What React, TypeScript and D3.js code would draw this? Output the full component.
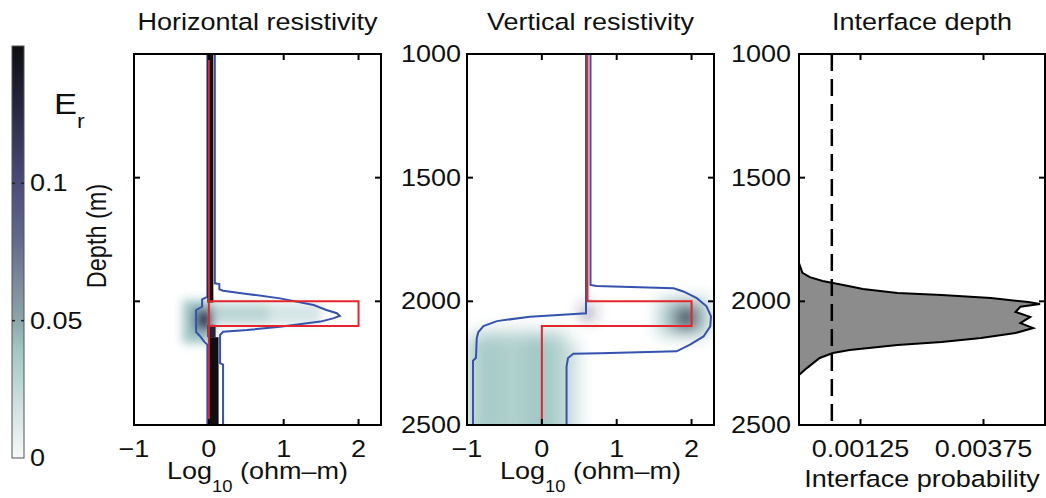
import React from "react";
import * as d3 from "d3";

// axis ticks
const depthTicks = [1000, 1500, 2000, 2500];
const resTicks = [-1, 0, 1, 2];
const probTicks = [0.00125, 0.00375];
const probTickLabels = ["0.00125", "0.00375"];
const erTicks = [0, 0.05, 0.1];
const erTickLabels = ["0", "0.05", "0.1"];

// E_r colour map
const erStops = [0, 0.015, 0.03, 0.04, 0.05, 0.065, 0.08, 0.1, 0.13, 0.15];
const erColors = ["#f6f9f9", "#d8e6e6", "#b6d3d1", "#9fc6c3", "#8ca6aa", "#7a889a", "#606a8a", "#4c4c7c", "#24243c", "#0e0e12"];

// true models [log10 rho, depth]
const trueHorizontal = [[0, 1000], [0, 2000], [2, 2000], [2, 2100], [0, 2100], [0, 2500]];
const trueHorizontalSide = [[0, 2000], [0, 2100]];
const trueVertical = [[0.61, 1000], [0.61, 2000], [2, 2000], [2, 2100], [0, 2100], [0, 2500]];

// credible bounds [log10 rho, depth]
const hLeftBound = [[-0.02, 1000], [-0.02, 1982], [-0.09, 1992], [-0.09, 2022], [-0.17, 2035], [-0.17, 2124], [-0.12, 2140], [-0.06, 2164], [-0.02, 2175], [-0.02, 2500]];
const hRightBound = [[0.08, 1000], [0.08, 1927], [0.14, 1930], [0.14, 1951], [0.19, 1957], [0.51, 1970], [0.95, 1988], [1.4, 2015], [1.57, 2035], [1.71, 2048], [1.75, 2059], [1.66, 2069], [1.49, 2082], [0.95, 2103], [0.51, 2116], [0.19, 2123], [0.15, 2136], [0.15, 2250], [0.19, 2256], [0.19, 2500]];
const vLeftBound = [[0.59, 1000], [0.59, 2048], [0.44, 2051], [-0.16, 2062], [-0.6, 2080], [-0.78, 2100], [-0.85, 2125], [-0.87, 2150], [-0.88, 2228], [-0.92, 2240], [-0.92, 2500]];
const vRightBound = [[0.65, 1000], [0.65, 1934], [0.73, 1938], [1.76, 1947], [1.89, 1960], [2.07, 1987], [2.2, 2020], [2.26, 2061], [2.25, 2101], [2.16, 2142], [1.98, 2175], [1.8, 2202], [0.78, 2210], [0.42, 2212], [0.35, 2229], [0.33, 2263], [0.33, 2500]];

// E_r patches
const hDensity = [
  { x0: 0.05, x1: 1.5, d0: 2008, d1: 2092, er: 0.016, soft: true },
  { x0: 0.05, x1: 0.8, d0: 2010, d1: 2090, er: 0.028, soft: true },
  { x0: -0.35, x1: 0.05, d0: 1995, d1: 2170, er: 0.04, soft: true },
  { x0: -0.2, x1: 0.05, d0: 2030, d1: 2120, er: 0.08, soft: true },
  { x0: -0.12, x1: 0.02, d0: 2045, d1: 2100, er: 0.13, soft: true },
  { x0: -0.02, x1: 0.06, d0: 1000, d1: 2005, er: 0.15, soft: false },
  { x0: -0.02, x1: 0.09, d0: 2095, d1: 2145, er: 0.13, soft: false },
  { x0: 0.0, x1: 0.13, d0: 2145, d1: 2500, er: 0.15, soft: false },
];
const vDensity = [
  { x0: -0.85, x1: 0.35, d0: 2115, d1: 2150, er: 0.02 },
  { x0: -1.0, x1: -0.75, d0: 2140, d1: 2500, er: 0.033 },
  { x0: -0.75, x1: -0.55, d0: 2140, d1: 2500, er: 0.038 },
  { x0: -0.55, x1: -0.3, d0: 2140, d1: 2500, er: 0.032 },
  { x0: -0.3, x1: -0.15, d0: 2140, d1: 2500, er: 0.036 },
  { x0: -0.15, x1: 0.1, d0: 2140, d1: 2500, er: 0.039 },
  { x0: 0.1, x1: 0.3, d0: 2145, d1: 2500, er: 0.033 },
  { x0: 0.3, x1: 0.5, d0: 2165, d1: 2500, er: 0.02 },
  { x0: 1.55, x1: 2.25, d0: 1990, d1: 2140, er: 0.03 },
  { x0: 1.75, x1: 2.1, d0: 2015, d1: 2115, er: 0.075 },
  { x0: 1.85, x1: 2.02, d0: 2030, d1: 2105, er: 0.14 },
  { x0: 0.55, x1: 0.67, d0: 2025, d1: 2068, er: 0.12 },
];

// interface depth histogram
const interfaceDepth = [1845, 1885, 1902, 1918, 1934, 1950, 1966, 1974, 1987, 2003, 2011, 2022, 2043, 2063, 2088, 2108, 2128, 2148, 2164, 2177, 2197, 2209, 2229, 2270, 2298];
const interfaceProb = [0, 0.00007, 0.00022, 0.00048, 0.0009, 0.0013, 0.002, 0.0029, 0.0039, 0.00466, 0.0049, 0.0045, 0.0044, 0.0047, 0.0045, 0.00476, 0.0044, 0.0037, 0.0029, 0.002, 0.00103, 0.00069, 0.00042, 0.00016, 0];
const priorProb = 0.000667;

const FONT = "'Liberation Sans', Arial, Helvetica, sans-serif";
const W = 1046, H = 498;
const TOP = 54, BOTTOM = 425;

const y = d3.scaleLinear().domain([1000, 2500]).range([TOP, BOTTOM]);
const xH = d3.scaleLinear().domain([-1, 2.3]).range([134, 381]);
const xV = d3.scaleLinear().domain([-1, 2.3]).range([467, 714]);
const xP = d3.scaleLinear().domain([0, 0.005]).range([799, 1045]);
const erScale = d3.scaleLinear<string>().domain(erStops).range(erColors);
const cbY = d3.scaleLinear().domain([0, 0.15]).range([458, 46]);

function Txt({ x, y, size = 23.5, anchor = "middle", rotate = false, children }: any) {
  const t = rotate
    ? `translate(${x},${y}) rotate(-90) scale(1,1.15)`
    : `translate(${x},${y}) scale(1.15,1)`;
  return (
    <text transform={t} fontSize={size} textAnchor={anchor} fontFamily={FONT} fill="#111">
      {children}
    </text>
  );
}

function Frame({ x, ticks, tickFmt }: any) {
  const [x0, x1] = x.range();
  const tl = 6;
  return (
    <g stroke="#000" strokeWidth={2} fill="none">
      {ticks.map((t: number, i: number) => (
        <g key={"x" + i}>
          <line x1={x(t)} x2={x(t)} y1={BOTTOM} y2={BOTTOM - tl} />
          <line x1={x(t)} x2={x(t)} y1={TOP} y2={TOP + tl} />
        </g>
      ))}
      {depthTicks.map((t, i) => (
        <g key={"y" + i}>
          <line x1={x0} x2={x0 + tl} y1={y(t)} y2={y(t)} />
          <line x1={x1} x2={x1 - tl} y1={y(t)} y2={y(t)} />
        </g>
      ))}
      <rect x={x0} y={TOP} width={x1 - x0} height={BOTTOM - TOP} />
      <g stroke="none">
        {ticks.map((t: number, i: number) => (
          <Txt key={"l" + i} x={x(t)} y={457}>{tickFmt(t, i)}</Txt>
        ))}
      </g>
    </g>
  );
}

function Patches({ x, data, id, blur }: any) {
  const [d0, d1] = y.domain();
  return (
    <g clipPath={`url(#${id})`}>
      <g filter={blur ? `url(#blur${blur})` : undefined}>
        {data.map((p: any, i: number) => {
          const top = p.d0 <= d0 ? y(p.d0) - 15 : y(p.d0);
          const bot = p.d1 >= d1 ? y(p.d1) + 15 : y(p.d1);
          return (
            <rect key={i} x={x(p.x0)} width={x(p.x1) - x(p.x0)} y={top} height={bot - top} fill={erScale(p.er)} />
          );
        })}
      </g>
    </g>
  );
}

function ResPanel({ x, id, density, left, right, truth, truthExtra, title, yLabels, blur }: any) {
  const line = d3.line<number[]>().x((d) => x(d[0])).y((d) => y(d[1]));
  const [x0, x1] = x.range();
  return (
    <g>
      <clipPath id={id}>
        <rect x={x0} y={TOP} width={x1 - x0} height={BOTTOM - TOP} />
      </clipPath>
      <Patches x={x} id={id} data={density.filter((p: any) => p.soft !== false)} blur={blur} />
      <g clipPath={`url(#${id})`} fill="none">
        <path d={line(left) || ""} stroke="#3552ae" strokeWidth={2} />
        <path d={line(right) || ""} stroke="#3552ae" strokeWidth={2} />
      </g>
      <Patches x={x} id={id} data={density.filter((p: any) => p.soft === false)} blur={0} />
      <g clipPath={`url(#${id})`} fill="none">
        <path d={line(truth) || ""} stroke="#e3262b" strokeWidth={2} />
        {truthExtra && <path d={line(truthExtra) || ""} stroke="#e3262b" strokeWidth={2} />}
      </g>
      <Frame x={x} ticks={resTicks} tickFmt={(t: number) => (t < 0 ? "\u2212" + Math.abs(t) : String(t))} />
      <Txt x={(x0 + x1) / 2} y={30}>{title}</Txt>
      <Txt x={(x0 + x1) / 2} y={479}>
        Log<tspan fontSize={16} dy={13}>10</tspan>
        <tspan dy={-13}> (ohm{"\u2013"}m)</tspan>
      </Txt>
      {yLabels &&
        depthTicks.map((t) => (
          <Txt key={t} x={x0 - 6} y={y(t) + 8} anchor="end">{t}</Txt>
        ))}
    </g>
  );
}

function ProbPanel() {
  const pts = interfaceDepth.map((d, i) => ({ d, p: interfaceProb[i] }));
  const area = d3.area<any>().y((v) => y(v.d)).x0(xP(0)).x1((v) => xP(v.p));
  const outline = d3.line<any>().y((v) => y(v.d)).x((v) => xP(v.p));
  const [x0, x1] = xP.range();
  return (
    <g>
      <path d={area(pts) || ""} fill="#8c8c8c" />
      <path d={outline(pts) || ""} fill="none" stroke="#000" strokeWidth={2} />
      <line x1={xP(priorProb)} x2={xP(priorProb)} y1={y(1000)} y2={y(2500)} stroke="#000" strokeWidth={2.5} strokeDasharray="17 8" />
      <Frame x={xP} ticks={probTicks} tickFmt={(t: number, i: number) => probTickLabels[i]} />
      <Txt x={(x0 + x1) / 2} y={30}>Interface depth</Txt>
      <Txt x={922} y={487}>Interface probability</Txt>
      {depthTicks.map((t) => (
        <Txt key={t} x={x0 - 8} y={y(t) + 8} anchor="end">{t}</Txt>
      ))}
    </g>
  );
}

function Colorbar() {
  const x0 = 12, w = 12;
  return (
    <g>
      <defs>
        <linearGradient id="erGrad" x1="0" y1="1" x2="0" y2="0">
          {erStops.map((s, i) => (
            <stop key={i} offset={s / 0.15} stopColor={erColors[i]} />
          ))}
        </linearGradient>
      </defs>
      <rect x={x0} y={cbY(0.15)} width={w} height={cbY(0) - cbY(0.15)} fill="url(#erGrad)" stroke="#555" strokeWidth={1} />
      {erTicks.map((t, i) => (
        <g key={i}>
          {t > 0 && (
            <g stroke="#222" strokeWidth={1.5}>
              <line x1={x0} x2={x0 + 3} y1={cbY(t)} y2={cbY(t)} />
              <line x1={x0 + w} x2={x0 + w - 3} y1={cbY(t)} y2={cbY(t)} />
            </g>
          )}
          <Txt x={30} y={cbY(t) + 8} anchor="start">{erTickLabels[i]}</Txt>
        </g>
      ))}
      <Txt x={54} y={114} size={30} anchor="start">
        E<tspan fontSize={20} dy={14}>r</tspan>
      </Txt>
      <Txt x={106} y={236} rotate>Depth (m)</Txt>
    </g>
  );
}

export default function App() {
  return (
    <svg width={W} height={H} style={{ position: "absolute", left: 0, top: 0, background: "#fff" }}>
      <defs>
        <filter id="blur5" x="-50%" y="-50%" width="200%" height="200%">
          <feGaussianBlur stdDeviation={5} />
        </filter>
        <filter id="blur8" x="-50%" y="-50%" width="200%" height="200%">
          <feGaussianBlur stdDeviation={8} />
        </filter>
      </defs>
      <rect width={W} height={H} fill="#fff" />
      <Colorbar />
      <ResPanel x={xH} id="clipH" density={hDensity} left={hLeftBound} right={hRightBound} truth={trueHorizontal} truthExtra={trueHorizontalSide} title="Horizontal resistivity" yLabels={false} blur={5} />
      <ResPanel x={xV} id="clipV" density={vDensity} left={vLeftBound} right={vRightBound} truth={trueVertical} title="Vertical resistivity" yLabels={true} blur={8} />
      <ProbPanel />
    </svg>
  );
}
